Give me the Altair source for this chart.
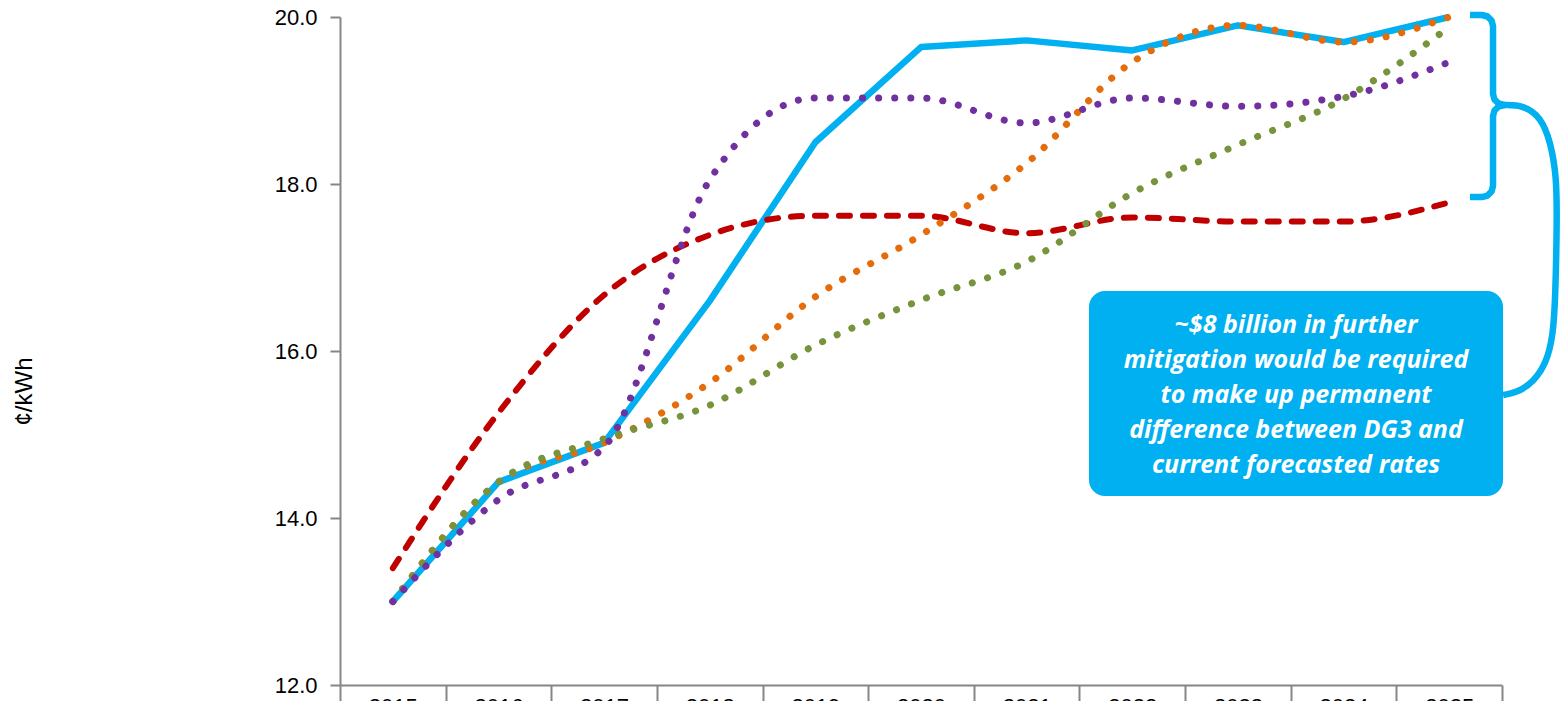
import altair as alt
import pandas as pd

# ---- data ----
years = list(range(2015, 2026))
current_forecast = [13.0, 14.43, 14.9, 16.6, 18.5, 19.64, 19.72, 19.6, 19.9, 19.7, 20.0]
dg3 = [13.4, 15.26, 16.67, 17.39, 17.62, 17.62, 17.41, 17.6, 17.55, 17.55, 17.78]
scenario_orange = [13.0, 14.43, 14.9, 15.62, 16.65, 17.39, 18.25, 19.46, 19.9, 19.7, 20.0]
scenario_green = [13.0, 14.43, 14.95, 15.35, 16.07, 16.61, 17.07, 17.89, 18.47, 19.02, 19.88]
scenario_purple = [13.0, 14.22, 14.85, 18.05, 19.03, 19.03, 18.73, 19.03, 18.93, 19.05, 19.46]

y_ticks = [12, 14, 16, 18, 20]
x_tick_edges = [2014.5 + k for k in range(12)]

callout_lines = [
    "~$8 billion in further",
    "mitigation would be required",
    "to make up permanent",
    "difference between DG3 and",
    "current forecasted rates",
]

# brace (in data units: year, c/kWh)
brace_x = [2025.197, 2025.311, 2025.363, 2025.401, 2025.415, 2025.415, 2025.429, 2025.467, 2025.519,
           2025.467, 2025.429, 2025.415, 2025.415, 2025.401, 2025.363, 2025.311, 2025.197]
brace_y = [20.024, 20.024, 20.006, 19.958, 19.892, 19.078, 19.012, 18.964, 18.946,
           18.928, 18.880, 18.814, 17.976, 17.910, 17.862, 17.844, 17.844]
conn_x = [2025.519, 2025.700, 2025.870, 2025.960, 2026.015, 2026.021, 2026.005, 2025.983,
          2025.925, 2025.800, 2025.640, 2025.510]
conn_y = [18.946, 18.946, 18.80, 18.50, 18.10, 17.60, 16.611, 16.192, 15.868, 15.629, 15.50, 15.473]
box_x = [2021.590, 2025.510]
box_y = [14.263, 16.719]
text_pos = [2023.550, 16.216]

FONT = "Liberation Sans"

x_scale = alt.Scale(domain=[2014.5, 2025.5], nice=False, zero=False)
y_scale = alt.Scale(domain=[12, 20], nice=False, zero=False)

x_axis = alt.Axis(
    values=x_tick_edges,
    labelExpr="datum.value < 2015 ? '' : format(datum.value - 0.5, 'd')",
    labelOffset=-52.82,
    tickSize=25,
    labelPadding=-14,
    labelFont=FONT,
    labelFontSize=22,
    labelColor="#000000",
    labelFlush=False,
    labelOverlap=False,
    domainColor="#868686",
    tickColor="#868686",
    domainWidth=2,
    tickWidth=2,
    grid=False,
    title=None,
)
y_axis = alt.Axis(
    values=y_ticks,
    format=".1f",
    tickSize=10,
    labelPadding=13,
    labelFont=FONT,
    labelFontSize=22,
    labelColor="#000000",
    domainColor="#868686",
    tickColor="#868686",
    domainWidth=2,
    tickWidth=2,
    grid=False,
    title="¢/kWh",
    titleFont=FONT,
    titleFontSize=24,
    titleFontWeight="normal",
    titleColor="#000000",
    titleAngle=270,
    titleX=-316,
    titleY=374,
    titleBaseline="middle",
)


def series_df(vals):
    return pd.DataFrame({"year": years, "value": vals})


def enc(ch):
    return ch.encode(
        x=alt.X("year:Q", scale=x_scale, axis=x_axis),
        y=alt.Y("value:Q", scale=y_scale, axis=y_axis),
    )


blue = enc(alt.Chart(series_df(current_forecast)).mark_line(
    color="#00B0F0", strokeWidth=6.5, strokeJoin="round"))
red = enc(alt.Chart(series_df(dg3)).mark_line(
    color="#C00000", strokeWidth=6, strokeDash=[11, 13], strokeCap="round", interpolate="monotone"))
orange = enc(alt.Chart(series_df(scenario_orange)).mark_line(
    color="#E46C0A", strokeWidth=7, strokeDash=[0.1, 16], strokeCap="round", interpolate="monotone"))
green = enc(alt.Chart(series_df(scenario_green)).mark_line(
    color="#77933C", strokeWidth=7, strokeDash=[0.1, 16], strokeCap="round", interpolate="monotone"))
purple = enc(alt.Chart(series_df(scenario_purple)).mark_line(
    color="#7030A0", strokeWidth=7, strokeDash=[0.1, 16], strokeCap="round", interpolate="monotone"))

brace_df = pd.DataFrame({"x": brace_x, "y": brace_y, "i": list(range(len(brace_x)))})
brace = alt.Chart(brace_df).mark_line(
    color="#00B0F0", strokeWidth=6.5, strokeJoin="round", strokeCap="butt"
).encode(
    x=alt.X("x:Q", scale=x_scale, axis=x_axis),
    y=alt.Y("y:Q", scale=y_scale, axis=y_axis),
    order=alt.Order("i:Q"),
)
conn_df = pd.DataFrame({"x": conn_x, "y": conn_y, "i": list(range(len(conn_x)))})
conn = alt.Chart(conn_df).mark_line(
    color="#00B0F0", strokeWidth=6.5, interpolate="basis"
).encode(
    x=alt.X("x:Q", scale=x_scale, axis=x_axis),
    y=alt.Y("y:Q", scale=y_scale, axis=y_axis),
    order=alt.Order("i:Q"),
)

box_df = pd.DataFrame({"x": [box_x[0]], "x2": [box_x[1]], "y": [box_y[0]], "y2": [box_y[1]]})
box = alt.Chart(box_df).mark_rect(color="#00B0F0", cornerRadius=16).encode(
    x=alt.X("x:Q", scale=x_scale, axis=x_axis),
    x2="x2:Q",
    y=alt.Y("y:Q", scale=y_scale, axis=y_axis),
    y2="y2:Q",
)
text_df = pd.DataFrame({"x": [text_pos[0]], "y": [text_pos[1]], "t": ["\n".join(callout_lines)]})
text = alt.Chart(text_df).mark_text(
    color="#FFFFFF", font="Open Sans", fontSize=25, fontWeight="bold", fontStyle="italic",
    lineBreak="\n", lineHeight=35, align="center", baseline="alphabetic",
).encode(
    x=alt.X("x:Q", scale=x_scale, axis=x_axis),
    y=alt.Y("y:Q", scale=y_scale, axis=y_axis),
    text="t:N",
)

chart = alt.layer(blue, red, orange, green, purple, brace, conn, box, text).properties(
    width=1162,
    height=668,
    padding={"left": 340, "top": 17, "right": 60, "bottom": 16},
    autosize=alt.AutoSizeParams(type="none"),
    background="#FFFFFF",
).configure_view(stroke=None)

chart.save("out.html", embed_options={"renderer": "svg", "actions": False})
